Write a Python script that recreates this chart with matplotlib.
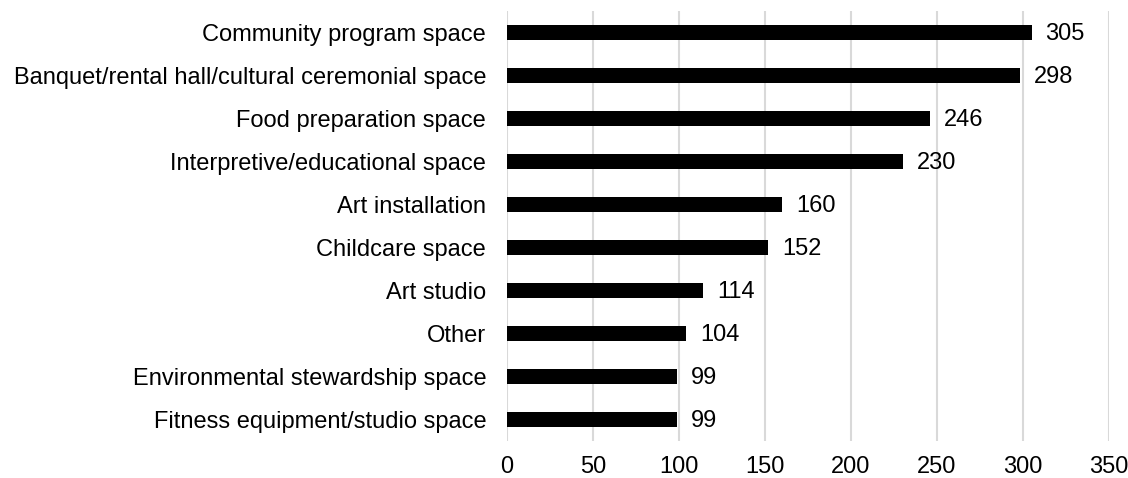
import matplotlib
matplotlib.use("Agg")
import matplotlib.pyplot as plt

categories = [
    "Community program space",
    "Banquet/rental hall/cultural ceremonial space",
    "Food preparation space",
    "Interpretive/educational space",
    "Art installation",
    "Childcare space",
    "Art studio",
    "Other",
    "Environmental stewardship space",
    "Fitness equipment/studio space",
]
values = [305, 298, 246, 230, 160, 152, 114, 104, 99, 99]
xticks = [0, 50, 100, 150, 200, 250, 300, 350]

plt.rcParams['font.family'] = ['Liberation Sans', 'DejaVu Sans']
FS = 17

fig = plt.figure(figsize=(11.28, 4.78), dpi=100)
left, right, top, bottom = 507, 1109, 11, 441
ax = fig.add_axes([left/1128, 1 - bottom/478, (right-left)/1128, (bottom-top)/478])

y = list(range(len(categories)))
ax.barh(y, values, height=0.36, color='black', zorder=3)
ax.set_ylim(len(categories) - 0.5, -0.5)
ax.set_xlim(0, 350)
ax.set_xticks(xticks)
ax.set_xticklabels([str(t) for t in xticks], fontsize=FS)
ax.set_yticks(y)
ax.set_yticklabels(categories, fontsize=FS)
ax.tick_params(axis='both', length=0)
ax.tick_params(axis='y', pad=15)
ax.tick_params(axis='x', pad=11)
ax.grid(axis='x', color='#d9d9d9', linewidth=1.5, zorder=0)
for s in ax.spines.values():
    s.set_visible(False)
for yi, v in zip(y, values):
    ax.annotate(str(v), (v, yi), xytext=(10, -1), textcoords='offset points',
                va='center', ha='left', fontsize=FS)

fig.savefig("out.png", dpi=100)
